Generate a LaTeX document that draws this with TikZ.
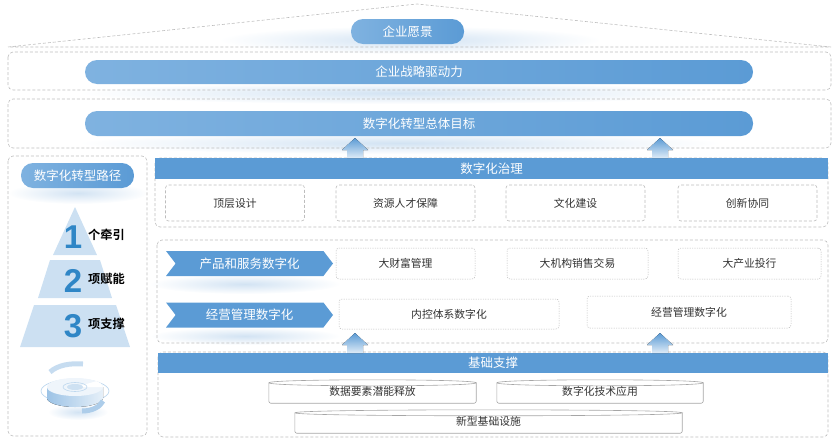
\documentclass[tikz,border=0pt]{standalone}
\usepackage{fontspec}
\setmainfont{Noto Sans CJK SC}[BoldFont={Noto Sans CJK SC Bold}]
\newfontfamily\digitfont{Liberation Sans}
\usepackage{tikz}
\usetikzlibrary{arrows}
\usetikzlibrary{calc,backgrounds}
\usetikzlibrary{shapes.symbols}
\usetikzlibrary{fadings}

\definecolor{barblue}{HTML}{5B9BD5}
\definecolor{barlight}{HTML}{7FB2E0}
\definecolor{hazeblue}{HTML}{BFD7EE}
\definecolor{pyrblue}{HTML}{CCE0F2}
\definecolor{numblue}{HTML}{2F86C6}
\definecolor{dashgray}{HTML}{BDBDBD}
\definecolor{inkgray}{HTML}{333333}
\definecolor{cylgray}{HTML}{A6A6A6}

\newcommand{\pxsize}[1]{\fontsize{#1}{#1}\selectfont}

\tikzfading[name=softglow, inner color=transparent!30, outer color=transparent!100]

\begin{document}
\begin{tikzpicture}[x=1pt, y=-1pt,
    frame/.style={draw=dashgray, dash pattern=on 3pt off 2pt, line width=0.6pt, rounded corners=5pt},
    haze/.style={fill=hazeblue, path fading=softglow},
    pill/.style={rounded corners=12pt, left color=barlight, right color=barblue, text=white,
        font=\pxsize{12.5}, minimum height=25pt, inner sep=0pt},
    headbar/.style={fill=barblue, text=white, font=\pxsize{12.5}, minimum height=21pt, inner sep=0pt},
    subbox/.style={draw=dashgray, dash pattern=on 3pt off 2pt, line width=0.6pt, rounded corners=3pt,
        fill=white, text=inkgray, font=\pxsize{10.8}, minimum width=139pt, minimum height=36pt, inner sep=0pt},
    bizbox/.style={draw=dashgray, dash pattern=on 1.2pt off 1.2pt, line width=0.5pt, rounded corners=3pt,
        fill=white, text=inkgray, font=\pxsize{10.8}, minimum height=31pt, inner sep=0pt},
    chevron/.style={signal, signal from=west, signal to=east, signal pointer angle=105,
        fill=barblue, text=white, font=\pxsize{12.5}, minimum width=167pt, minimum height=25pt, inner sep=0pt},
    cylbox/.style={text=inkgray, font=\pxsize{10.8}, minimum height=23pt, inner sep=0pt},
    cylline/.style={draw=cylgray, line width=0.6pt},
    digit/.style={text=numblue, font=\digitfont\bfseries\pxsize{33}, inner sep=0pt},
    tierlabel/.style={text=black, font=\bfseries\pxsize{12.2}, inner sep=0pt, anchor=west},
    ringband/.style={line width=5pt, line cap=butt},
    uparrow/.style={top color=barblue, bottom color=barblue!20}]

\useasboundingbox (0,0) rectangle (834,447);

\coordinate (roofL) at (8,47);
\coordinate (roofT) at (417,4);
\coordinate (roofR) at (831,47);

\fill[haze] (410,40) ellipse[x radius=190, y radius=14];
\fill[haze] (400,93) ellipse[x radius=320, y radius=11];
\fill[haze] (400,143) ellipse[x radius=320, y radius=11];
\fill[haze] (78,193) ellipse[x radius=70, y radius=11];
\fill[haze] (245,284) ellipse[x radius=95, y radius=10];
\fill[haze] (245,336) ellipse[x radius=95, y radius=9];

\draw[frame, rounded corners=0pt] (roofL) -- (roofT) -- (roofR) -- cycle;
\draw[frame] (8,52) rectangle (831,90);
\draw[frame] (8,99) rectangle (831,148);
\draw[frame] (8,156) rectangle (147,436);
\draw[frame] (155,158) rectangle (828,227);
\draw[frame] (157,240) rectangle (828,343);
\draw[frame] (158,352) rectangle (828,437);

\node[pill, minimum width=113pt] (vision) at (407.5,31.5) {企业愿景};

\node[pill, minimum width=668pt, minimum height=24pt] (strategy) at (419,72) {企业战略驱动力};

\node[pill, minimum width=668pt] (goal) at (419,123.5) {数字化转型总体目标};

\node[pill, minimum width=113pt] (route) at (77.5,175.5) {数字化转型路径};

\fill[pyrblue] (75,207) -- (97,255) -- (53,255) -- cycle;
\fill[pyrblue] (50,260) -- (100,260) -- (112,298) -- (38,298) -- cycle;
\fill[pyrblue] (34,305) -- (116,305) -- (130,347) -- (20,347) -- cycle;

\foreach \n/\y/\txt in {1/237/个牵引, 2/281/项赋能, 3/326/项支撑} {
    \node[digit] (num\n) at (73,\y) {\n};
    \node[tierlabel] (tier\n) at (88,\y-2) {\txt};
}

\fill[haze] (78,412) ellipse[x radius=30, y radius=8];
\draw[ringband, color=barblue!35] (50,372) .. controls (58,365) and (70,363) .. (83,364);
\draw[color=barblue!40, line width=0.7pt] (75,391) ellipse[x radius=34, y radius=12];
\fill[left color=barblue!60, right color=barblue!15] (47,387) -- (47,398)
    arc[start angle=180, end angle=0, x radius=28, y radius=9] -- (103,387) -- cycle;
\fill[color=barblue!10] (75,387) ellipse[x radius=28, y radius=9];
\fill[color=white] (75,387) -- (103,387) arc[start angle=0, end angle=-40, x radius=28, y radius=9] -- cycle;
\draw[color=barblue!40, line width=0.6pt] (75,387) ellipse[x radius=12, y radius=4.5];
\fill[color=barblue!30] (75,387) ellipse[x radius=8, y radius=3];
\draw[ringband, color=barblue!50] (82,411) .. controls (92,411) and (100,407) .. (103,401);

\node[headbar, minimum width=673pt] (govern) at (491.5,168.5) {数字化治理};

\foreach \name/\x/\txt in {g1/235/顶层设计, g2/405.5/资源人才保障, g3/575.5/文化建设, g4/747.5/创新协同}
    \node[subbox] (\name) at (\x,203) {\txt};

\node[chevron] (product) at (249.5,263.5) {产品和服务数字化};

\node[chevron] (operate) at (249.5,315) {经营管理数字化};

\foreach \name/\x/\w/\txt in {b1/405.5/139pt/大财富管理, b2/577.5/141pt/大机构销售交易, b3/749.5/143pt/大产业投行}
    \node[bizbox, minimum width=\w] (\name) at (\x,263.5) {\txt};

\node[bizbox, minimum width=220pt, minimum height=30pt] (r1) at (449,314) {内控体系数字化};

\node[bizbox, minimum width=204pt, minimum height=32pt] (r2) at (689,312) {经营管理数字化};

\node[headbar, minimum width=670pt, minimum height=20pt] (base) at (493,363) {基础支撑};

\node[cylbox, minimum width=207pt] (cyl1) at (372.5,391.5) {数据要素潜能释放};

\node[cylbox, minimum width=206pt] (cyl2) at (600,391.5) {数字化技术应用};

\node[cylbox, minimum width=387pt] (cyl3) at (488.5,421.5) {新型基础设施};

\foreach \c in {cyl1, cyl2, cyl3} {
    \draw[cylline, rounded corners=2pt] ([yshift=-3pt]\c.north west) -- (\c.south west) -- (\c.south east) -- ([yshift=-3pt]\c.north east);
    \draw[cylline] ([yshift=-3pt]\c.north west) .. controls ([yshift=1pt]\c.north west) and ([yshift=1pt]\c.north east) .. ([yshift=-3pt]\c.north east)
        .. controls ([yshift=-7pt]\c.north east) and ([yshift=-7pt]\c.north west) .. ([yshift=-3pt]\c.north west);
}

\foreach \x/\y in {355/138, 660/138, 355/333, 660/333}
    \fill[uparrow] (\x,\y) -- ++(13,12) -- ++(-5,0) -- ++(0,8) -- ++(-16,0) -- ++(0,-8) -- ++(-5,0) -- cycle;

\end{tikzpicture}
\end{document}
